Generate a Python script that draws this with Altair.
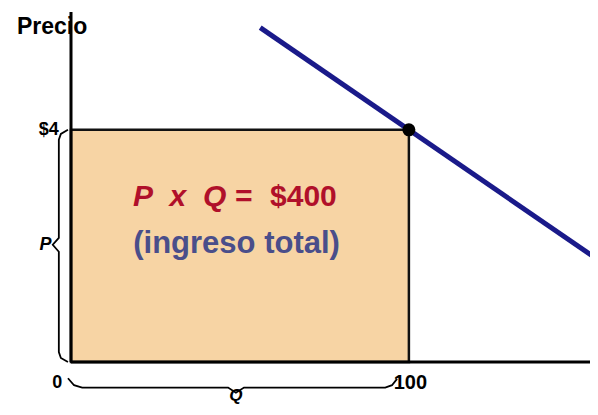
import altair as alt
import pandas as pd

# ---- data (Q = quantity, P = price) ----
demand_q = [56, 156]
demand_p = [5.76, 1.76]

point_q = [100]
point_p = [4]

rect_q = [0]
rect_q2 = [100]
rect_p = [0]
rect_p2 = [4]

# brace shapes (data units)
p_brace_q = [-0.9, -3.0, -3.6, -3.6, -5.4, -3.6, -3.6, -3.0, -0.9]
p_brace_p = [4.0, 3.93, 3.83, 2.14, 2.02, 1.90, 0.17, 0.07, 0.0]
q_brace_q = [-0.9, 0.9, 3.3, 46.5, 48.8, 51.2, 93.0, 95.0, 96.5]
q_brace_p = [-0.28, -0.40, -0.44, -0.44, -0.53, -0.44, -0.44, -0.40, -0.29]

# labels
axis_labels = ["$4", "0"]
axis_label_q = [-3.6, -2.6]
axis_label_p = [4.0, -0.36]

Q_MAX = 153.6
P_MAX = 6.03

W, H = 519, 350

xs = alt.Scale(domain=[0, Q_MAX], nice=False, zero=False)
ys = alt.Scale(domain=[0, P_MAX], nice=False, zero=False)

rect_df = pd.DataFrame({"q": rect_q, "q2": rect_q2, "p": rect_p, "p2": rect_p2})
rect = alt.Chart(rect_df).mark_rect(fill="#f7d4a4", stroke="#111111", strokeWidth=2.5).encode(
    x=alt.X("q:Q", scale=xs, axis=None), x2="q2", y=alt.Y("p:Q", scale=ys, axis=None), y2="p2"
)

axes_df = pd.DataFrame({"q": [0, 0], "p": [0, 0], "q2": [Q_MAX, 0], "p2": [0, P_MAX]})
axes = alt.Chart(axes_df).mark_rule(color="#000000", strokeWidth=3).encode(
    x=alt.X("q:Q", scale=xs, axis=None), y=alt.Y("p:Q", scale=ys, axis=None), x2="q2", y2="p2"
)

demand_df = pd.DataFrame({"q": demand_q, "p": demand_p})
demand = alt.Chart(demand_df).mark_line(color="#1a1a8a", strokeWidth=5).encode(
    x=alt.X("q:Q", scale=xs, axis=None), y=alt.Y("p:Q", scale=ys, axis=None)
)

pt_df = pd.DataFrame({"q": point_q, "p": point_p})
pt = alt.Chart(pt_df).mark_point(filled=True, color="#000000", size=170, opacity=1).encode(
    x=alt.X("q:Q", scale=xs, axis=None), y=alt.Y("p:Q", scale=ys, axis=None)
)

pb_df = pd.DataFrame({"q": p_brace_q, "p": p_brace_p, "o": list(range(len(p_brace_q)))})
pbrace = alt.Chart(pb_df).mark_line(color="#000000", strokeWidth=1.8).encode(
    x=alt.X("q:Q", scale=xs, axis=None), y=alt.Y("p:Q", scale=ys, axis=None), order="o:O"
)
qb_df = pd.DataFrame({"q": q_brace_q, "p": q_brace_p, "o": list(range(len(q_brace_q)))})
qbrace = alt.Chart(qb_df).mark_line(color="#000000", strokeWidth=1.8).encode(
    x=alt.X("q:Q", scale=xs, axis=None), y=alt.Y("p:Q", scale=ys, axis=None), order="o:O"
)

def label(txt, q, p, size, align="center", style="normal", color="#000000", font="Liberation Sans"):
    df = pd.DataFrame({"q": [q], "p": [p], "t": [txt]})
    return alt.Chart(df).mark_text(
        align=align, baseline="middle", fontSize=size, fontWeight="bold", fontStyle=style,
        color=color, font=font
    ).encode(x=alt.X("q:Q", scale=xs, axis=None), y=alt.Y("p:Q", scale=ys, axis=None), text="t:N")

ax_df = pd.DataFrame({"q": axis_label_q, "p": axis_label_p, "t": axis_labels})
ax_labels = alt.Chart(ax_df).mark_text(
    align="right", baseline="middle", fontSize=18, fontWeight="bold", color="#000000", font="Liberation Sans"
).encode(x=alt.X("q:Q", scale=xs, axis=None), y=alt.Y("p:Q", scale=ys, axis=None), text="t:N")

NB = "\u00a0"
layers = [
    rect, axes, demand, pt, pbrace, qbrace, ax_labels,
    label("100", 95.5, -0.36, 20, align="left"),
    label("P", -5.8, 2.02, 18, align="right", style="italic"),
    label("Q", 48.8, -0.59, 17, style="italic"),
    label("Precio", -16.0, 5.776, 23, align="left"),
    label("P" + NB * 2 + "x" + NB * 2 + "Q" + NB + "=", 53.6, 2.84, 30, align="right", style="italic", color="#b0102a"),
    label("$400", 58.9, 2.84, 30, align="left", color="#b0102a"),
    label("(ingreso total)", 49.0, 2.03, 31, color="#4a4e8a"),
]

chart = alt.layer(*layers).properties(
    width=W, height=H,
    padding={"left": 63, "top": 4, "right": 0, "bottom": 44},
    autosize=alt.AutoSizeParams(type="none"),
).configure_view(stroke=None)

chart.save("out.html", embed_options={"renderer": "svg", "actions": False})
